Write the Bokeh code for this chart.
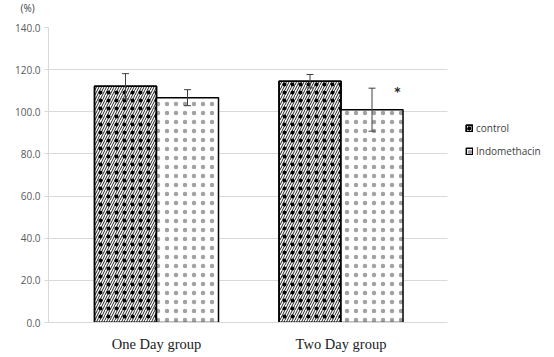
from bokeh.plotting import figure
from bokeh.models import (Range1d, Whisker, ColumnDataSource, Legend, LegendItem,
                          Title, FixedTicker, TeeHead, NumeralTickFormatter)
from bokeh.core.properties import value
from bokeh.embed import file_html
from bokeh.resources import INLINE

groups = ["One Day group", "Two Day group"]
series = ["control", "Indomethacin"]
control = [112.1, 114.5]
control_err = [6.0, 3.2]
indo = [106.7, 101.0]
indo_err = [3.8, 10.2]
significant = ["", "*"]
y_ticks = [0, 20, 40, 60, 80, 100, 120, 140]

BAR_W = 0.336
X_LEFT, X_AXIS_END, X_RIGHT = 0.4146, 2.577, 3.157
pos = [i + 1 for i in range(len(groups))]
x_ctrl = [x - BAR_W / 2 for x in pos]
x_indo = [x + BAR_W / 2 for x in pos]

src_c = ColumnDataSource(dict(x=x_ctrl, top=control,
                              upper=[v + e for v, e in zip(control, control_err)],
                              lower=[v - e for v, e in zip(control, control_err)]))
src_i = ColumnDataSource(dict(x=x_indo, top=indo,
                              upper=[v + e for v, e in zip(indo, indo_err)],
                              lower=[v - e for v, e in zip(indo, indo_err)]))

p = figure(width=554, height=357, x_range=Range1d(X_LEFT, X_RIGHT), y_range=Range1d(0, 140),
           output_backend="svg", toolbar_location=None,
           min_border_left=48, min_border_right=0, min_border_top=0, min_border_bottom=35)
p.outline_line_color = None
p.background_fill_color = "white"
p.border_fill_color = "white"

# axes
p.xgrid.grid_line_color = None
p.ygrid.grid_line_color = "#d9d9d9"
p.ygrid.ticker = FixedTicker(ticks=y_ticks)
p.ygrid.cross_bounds = (X_LEFT, X_AXIS_END)
p.yaxis.ticker = FixedTicker(ticks=y_ticks)
p.yaxis.formatter = NumeralTickFormatter(format="0.0")
p.yaxis.axis_line_color = "#d9d9d9"
p.yaxis.major_tick_line_color = "#d9d9d9"
p.yaxis.major_tick_out = 4
p.yaxis.major_tick_in = 0
p.yaxis.minor_tick_line_color = None
p.yaxis.major_label_text_font = "Open Sans"
p.yaxis.major_label_text_font_size = "10px"
p.yaxis.major_label_text_color = "#595959"
p.yaxis.major_label_standoff = 4

p.xaxis.ticker = FixedTicker(ticks=pos)
p.xaxis.bounds = (X_LEFT, X_AXIS_END)
p.xaxis.major_label_overrides = {x: g for x, g in zip(pos, groups)}
p.xaxis.axis_line_color = "#d9d9d9"
p.xaxis.major_tick_line_color = None
p.xaxis.minor_tick_line_color = None
p.xaxis.major_label_text_font = "Liberation Serif"
p.xaxis.major_label_text_font_size = "14.5px"
p.xaxis.major_label_text_color = "#222222"
p.xaxis.major_label_standoff = 7

# bars
rc1 = p.vbar(x="x", top="top", width=BAR_W, source=src_c, fill_color="white",
             line_color="black", line_width=1.5,
             hatch_pattern="/", hatch_scale=5, hatch_weight=1, hatch_color="#222222")
rc2 = p.vbar(x="x", top="top", width=BAR_W, source=src_c, fill_alpha=0,
             line_color="black", line_width=1.5,
             hatch_pattern="dot", hatch_scale=8, hatch_weight=0.3, hatch_color="black")
ri = p.vbar(x="x", top="top", width=BAR_W, source=src_i, fill_color="white",
            line_color="black", line_width=1.5,
            hatch_pattern="dot", hatch_scale=9, hatch_weight=0.3, hatch_color="#555555",
            hatch_alpha=0.55)

for s in (src_c, src_i):
    w = Whisker(source=s, base="x", upper="upper", lower="lower",
                line_color="#404040", line_width=1, level="overlay",
                upper_head=TeeHead(size=7, line_color="#404040", line_width=1),
                lower_head=TeeHead(size=7, line_color="#404040", line_width=1))
    p.add_layout(w)

# significance marks
sig_src = ColumnDataSource(dict(
    x=[x + BAR_W * 0.41 for x in x_indo],
    y=[v + e - 2.0 for v, e in zip(indo, indo_err)],
    t=significant))
p.text(x="x", y="y", text="t", source=sig_src, text_font=value("DejaVu Sans"),
       text_font_size="12px", text_font_style="bold", text_align="center",
       text_baseline="middle", text_color="#222222")

legend = Legend(items=[LegendItem(label=series[0], renderers=[rc1, rc2]),
                       LegendItem(label=series[1], renderers=[ri])],
                location=(417, 164), padding=0, margin=0, spacing=9,
                glyph_width=8, glyph_height=8, label_height=8, label_standoff=3,
                label_text_font="Open Sans", label_text_font_size="10px",
                label_text_color="#404040",
                background_fill_alpha=0, border_line_color=None)
p.add_layout(legend, "center")

# spacer between frame and the unit label, then the unit label on top
p.add_layout(Title(text=" ", text_font_size="1px", standoff=8), "above")
p.add_layout(Title(text="(%)", align="left", offset=-28, standoff=0, vertical_align="top",
                   text_font="Open Sans", text_font_size="10px",
                   text_font_style="normal", text_color="#404040"), "above")

open("out.html", "w").write(file_html(p, INLINE))
